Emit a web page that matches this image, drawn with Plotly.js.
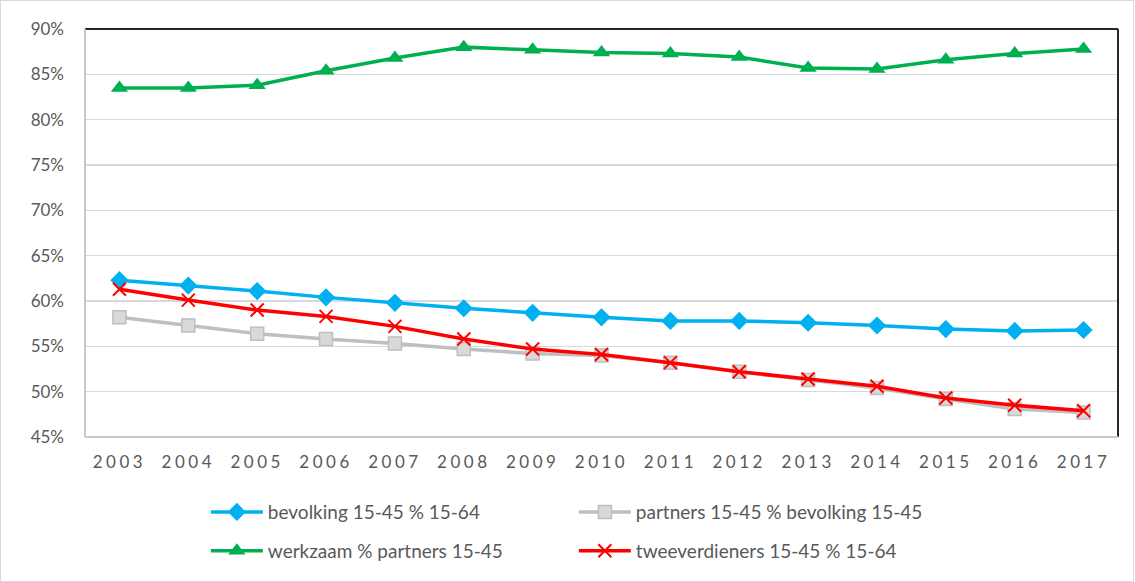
<!DOCTYPE html>
<html>
<head>
<meta charset="utf-8">
<script src="https://cdn.plot.ly/plotly-3.0.1.min.js"></script>
<style>html,body{margin:0;padding:0;background:#fff;}#chart{width:1135px;height:582px;}
#chart .xtick text{letter-spacing:3.5px;}</style>
</head>
<body>
<div id="chart"></div>
<script>
const years = ['2003','2004','2005','2006','2007','2008','2009','2010','2011','2012','2013','2014','2015','2016','2017'];
const bevolking = [62.3, 61.7, 61.1, 60.4, 59.8, 59.2, 58.7, 58.2, 57.8, 57.8, 57.6, 57.3, 56.9, 56.7, 56.8];
const partners = [58.2, 57.3, 56.4, 55.8, 55.3, 54.7, 54.2, 54.0, 53.2, 52.2, 51.3, 50.4, 49.2, 48.1, 47.7];
const werkzaam = [83.5, 83.5, 83.8, 85.4, 86.8, 88.0, 87.7, 87.4, 87.3, 86.9, 85.7, 85.6, 86.6, 87.3, 87.8];
const tweeverdieners = [61.3, 60.1, 59.0, 58.3, 57.2, 55.8, 54.7, 54.1, 53.2, 52.2, 51.4, 50.6, 49.3, 48.5, 47.9];
const yTicks = [45, 50, 55, 60, 65, 70, 75, 80, 85, 90];
const names = ['bevolking 15-45 % 15-64', 'partners 15-45 % bevolking 15-45', 'werkzaam % partners 15-45', 'tweeverdieners 15-45 % 15-64'];

const font = 'Lato, "Open Sans", sans-serif';
const traces = [
  {x: years, y: bevolking, name: names[0], type: 'scatter', mode: 'lines+markers', legend: 'legend',
   line: {color: '#00b0f0', width: 3.5}, marker: {symbol: 'diamond', size: 14, color: '#00b0f0'}},
  {x: years, y: partners, name: names[1], type: 'scatter', mode: 'lines+markers', legend: 'legend',
   line: {color: '#bfbfbf', width: 3.5}, marker: {symbol: 'square', size: 13, color: '#d9d9d9', line: {color: '#bfbfbf', width: 1.5}}},
  {x: years, y: werkzaam, name: names[2], type: 'scatter', mode: 'lines+markers', legend: 'legend2',
   line: {color: '#00b050', width: 3.5}, marker: {symbol: 'triangle-up', size: 15, color: '#00b050'}},
  {x: years, y: tweeverdieners, name: names[3], type: 'scatter', mode: 'lines+markers', legend: 'legend2',
   line: {color: '#ff0000', width: 3.5}, marker: {symbol: 'x-thin', size: 13, color: '#ff0000', line: {color: '#ff0000', width: 2}}}
];

const legendCommon = {orientation: 'h', xanchor: 'left', yanchor: 'middle', entrywidth: 301, entrywidthmode: 'pixels',
  font: {family: font, size: 19, color: '#595959'}, bgcolor: 'rgba(0,0,0,0)', itemwidth: 52, traceorder: 'normal'};

const layout = {
  width: 1135, height: 582,
  margin: {l: 85, r: 17, t: 29, b: 145},
  paper_bgcolor: '#ffffff', plot_bgcolor: '#ffffff',
  showlegend: true,
  font: {family: font, color: '#595959'},
  xaxis: {type: 'category', range: [-0.5, 14.5], showgrid: false, zeroline: false, showline: false,
    tickfont: {family: font, size: 17, color: '#595959'}, ticks: '', ticklabelstandoff: 13, fixedrange: true},
  yaxis: {range: [45, 90], tickvals: yTicks, ticktext: yTicks.map(v => v + '%'), showgrid: true, gridcolor: '#d9d9d9', gridwidth: 1.3,
    zeroline: false, showline: false, tickfont: {family: font, size: 17, color: '#595959'}, ticks: '', ticklabelstandoff: 20, fixedrange: true},
  legend: Object.assign({x: 0.117, y: -0.184}, legendCommon),
  legend2: Object.assign({x: 0.117, y: -0.279}, legendCommon),
  shapes: [
    {type: 'line', xref: 'paper', yref: 'paper', x0: 0, x1: 1, y0: 1, y1: 1, line: {color: '#262626', width: 2}},
    {type: 'line', xref: 'paper', yref: 'paper', x0: 1, x1: 1, y0: 0, y1: 1, line: {color: '#262626', width: 2}},
    {type: 'line', xref: 'paper', yref: 'paper', x0: 0, x1: 0, y0: 0, y1: 1, line: {color: '#c8c8c8', width: 2}},
    {type: 'line', xref: 'paper', yref: 'paper', x0: 0, x1: 1, y0: 0, y1: 0, line: {color: '#c8c8c8', width: 2}}
  ]
};

Plotly.newPlot('chart', traces, layout, {displayModeBar: false, staticPlot: true}).then(function(){
  // outer chart border
  const svg = document.querySelector('#chart .main-svg');
  const r = document.createElementNS('http://www.w3.org/2000/svg', 'rect');
  r.setAttribute('x', 0.5); r.setAttribute('y', 0.5); r.setAttribute('width', 1133); r.setAttribute('height', 581);
  r.setAttribute('fill', 'none'); r.setAttribute('stroke', '#d9d9d9'); r.setAttribute('stroke-width', 1);
  svg.appendChild(r);
});
</script>
</body>
</html>
